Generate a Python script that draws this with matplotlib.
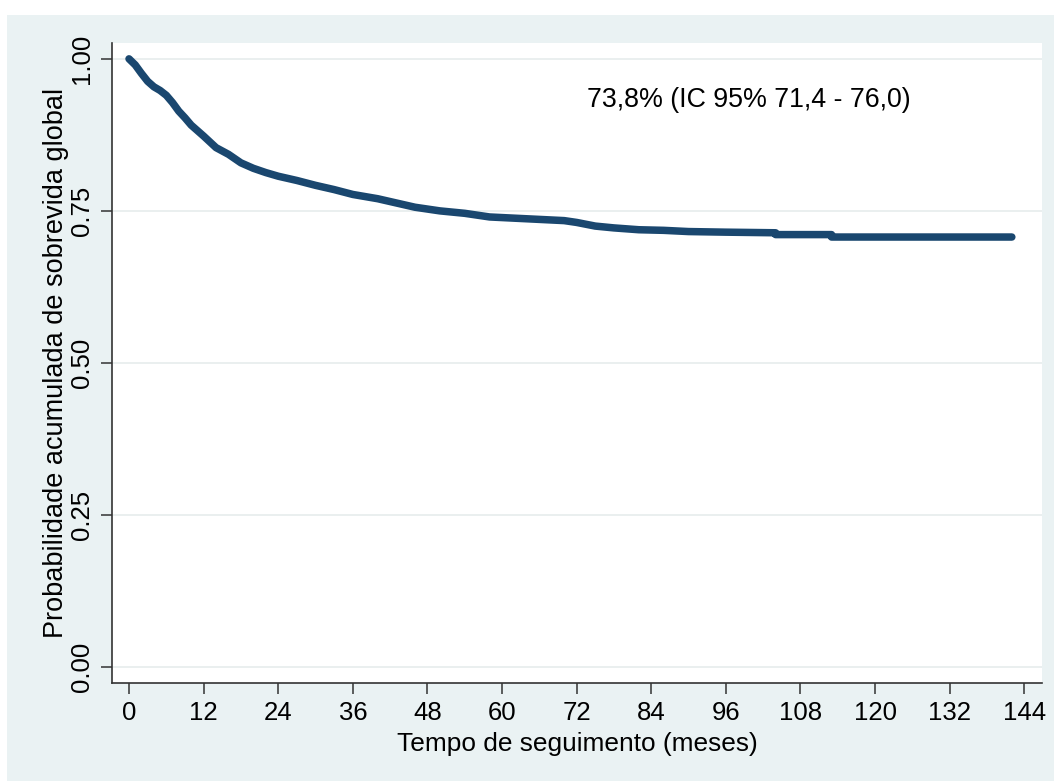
import matplotlib.pyplot as plt
from matplotlib.patches import Rectangle

# Curva de sobrevida global (Kaplan-Meier)
tempo = [0, 1, 2, 3, 4, 5, 6, 7, 8, 9, 10, 12, 14, 16, 18, 20, 22, 24,
         27, 30, 33, 36, 40, 43, 46, 50, 54, 58, 62, 66, 70, 72, 75, 78,
         82, 86, 90, 96, 104, 104, 113, 113, 142]
sobrevida = [1.000, 0.990, 0.976, 0.963, 0.954, 0.948, 0.940, 0.928, 0.914,
             0.903, 0.891, 0.873, 0.854, 0.843, 0.829, 0.820, 0.813, 0.807,
             0.800, 0.792, 0.785, 0.777, 0.770, 0.763, 0.756, 0.750, 0.746,
             0.740, 0.738, 0.736, 0.734, 0.731, 0.725, 0.722, 0.719, 0.718,
             0.716, 0.715, 0.714, 0.711, 0.711, 0.707, 0.707]

xticks = list(range(0, 145, 12))
yticks = [0.0, 0.25, 0.5, 0.75, 1.0]
ytick_labels = ["0.00", "0.25", "0.50", "0.75", "1.00"]
anotacao = "73,8% (IC 95% 71,4 - 76,0)"

plt.rcParams['font.family'] = ['Liberation Sans', 'DejaVu Sans']

fig = plt.figure(figsize=(10.54, 7.81), dpi=100, facecolor='white')
# fundo cinza-azulado estilo Stata
fundo = Rectangle((7 / 1054, 0), 1 - 7 / 1054, (781 - 15) / 781,
                  transform=fig.transFigure, facecolor='#EAF2F3',
                  edgecolor='none', zorder=-10)
fig.add_artist(fundo)

ax = fig.add_axes([0.1063, 0.1255, 0.8823, 0.8194])
ax.set_zorder(1)
ax.set_facecolor('white')

ax.plot(tempo, sobrevida, color='#1A476F', linewidth=5.4,
        solid_capstyle='round', solid_joinstyle='round', zorder=3)

ax.set_xlim(-2.73, 146.85)
ax.set_ylim(-0.0263, 1.026)

ax.set_xticks(xticks)
ax.set_yticks(yticks)
ax.set_yticklabels(ytick_labels, rotation=90, va='center')
ax.tick_params(axis='both', length=8, width=1.1, color='#333333',
               labelsize=18.5, labelcolor='black', pad=5)

ax.grid(axis='y', color='#E6ECEC', linewidth=1.2, zorder=1)
ax.grid(axis='x', visible=False)

for s in ['top', 'right']:
    ax.spines[s].set_visible(False)
for s in ['left', 'bottom']:
    ax.spines[s].set_color('#333333')
    ax.spines[s].set_linewidth(1.2)

ax.set_xlabel("Tempo de seguimento (meses)", fontsize=18.9, labelpad=5)
ax.set_ylabel("Probabilidade acumulada de sobrevida global", fontsize=19.5, labelpad=1)

ax.text(73.7, 0.933, anotacao, fontsize=19.3, ha='left', va='center')

fig.savefig('out.png', dpi=100, facecolor=fig.get_facecolor())
